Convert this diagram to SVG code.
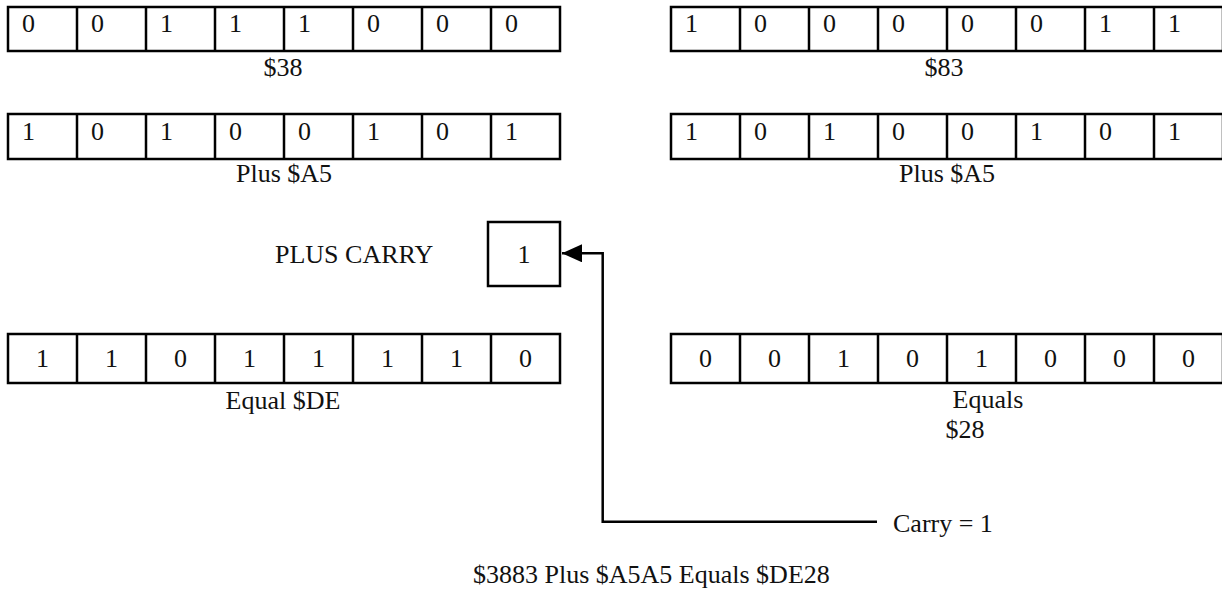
<svg xmlns="http://www.w3.org/2000/svg" width="1222" height="593" viewBox="0 0 1222 593">
<style>
text{font-family:"Liberation Serif","Times New Roman",serif;font-size:26px;fill:#111}
.c{text-anchor:middle}
.cell{fill:#fff;stroke:#000;stroke-width:2.5}
.ln{fill:none;stroke:#000;stroke-width:2.5}
</style>
<defs>
<marker id="ah" markerWidth="20" markerHeight="20" refX="20" refY="9" orient="auto" markerUnits="userSpaceOnUse">
<path d="M0,0 L20,9 L0,18 Z" fill="#000"/>
</marker>
</defs>
<g id="row-38">
<rect class="cell" x="8" y="7" width="552" height="44"/>
<path class="ln" d="M77,7V51M146,7V51M215,7V51M284,7V51M353,7V51M422,7V51M491,7V51"/>
<text x="22" y="32">0</text><text x="91" y="32">0</text><text x="160" y="32">1</text><text x="229" y="32">1</text><text x="298" y="32">1</text><text x="367" y="32">0</text><text x="436" y="32">0</text><text x="505" y="32">0</text>
<text class="c" x="283" y="76">$38</text>
</g>
<g id="row-83">
<rect class="cell" x="671" y="7" width="552" height="44"/>
<path class="ln" d="M740,7V51M809,7V51M878,7V51M947,7V51M1016,7V51M1085,7V51M1154,7V51"/>
<text x="685" y="32">1</text><text x="754" y="32">0</text><text x="823" y="32">0</text><text x="892" y="32">0</text><text x="961" y="32">0</text><text x="1030" y="32">0</text><text x="1099" y="32">1</text><text x="1168" y="32">1</text>
<text class="c" x="944" y="76">$83</text>
</g>
<g id="row-a5-left">
<rect class="cell" x="8" y="114" width="552" height="45"/>
<path class="ln" d="M77,114V159M146,114V159M215,114V159M284,114V159M353,114V159M422,114V159M491,114V159"/>
<text x="22" y="140">1</text><text x="91" y="140">0</text><text x="160" y="140">1</text><text x="229" y="140">0</text><text x="298" y="140">0</text><text x="367" y="140">1</text><text x="436" y="140">0</text><text x="505" y="140">1</text>
<text class="c" x="284" y="182">Plus $A5</text>
</g>
<g id="row-a5-right">
<rect class="cell" x="671" y="114" width="552" height="45"/>
<path class="ln" d="M740,114V159M809,114V159M878,114V159M947,114V159M1016,114V159M1085,114V159M1154,114V159"/>
<text x="685" y="140">1</text><text x="754" y="140">0</text><text x="823" y="140">1</text><text x="892" y="140">0</text><text x="961" y="140">0</text><text x="1030" y="140">1</text><text x="1099" y="140">0</text><text x="1168" y="140">1</text>
<text class="c" x="947" y="182">Plus $A5</text>
</g>
<g id="carry-in">
<text x="275" y="263">PLUS CARRY</text>
<rect class="cell" x="488" y="222" width="72" height="64"/>
<text class="c" x="524" y="263">1</text>
</g>
<g id="row-de">
<rect class="cell" x="8" y="334" width="552" height="49"/>
<path class="ln" d="M77,334V383M146,334V383M215,334V383M284,334V383M353,334V383M422,334V383M491,334V383"/>
<text class="c" x="42.5" y="367">1</text><text class="c" x="111.5" y="367">1</text><text class="c" x="180.5" y="367">0</text><text class="c" x="249.5" y="367">1</text><text class="c" x="318.5" y="367">1</text><text class="c" x="387.5" y="367">1</text><text class="c" x="456.5" y="367">1</text><text class="c" x="525.5" y="367">0</text>
<text class="c" x="283" y="409">Equal $DE</text>
</g>
<g id="row-28">
<rect class="cell" x="671" y="334" width="552" height="49"/>
<path class="ln" d="M740,334V383M809,334V383M878,334V383M947,334V383M1016,334V383M1085,334V383M1154,334V383"/>
<text class="c" x="705.5" y="367">0</text><text class="c" x="774.5" y="367">0</text><text class="c" x="843.5" y="367">1</text><text class="c" x="912.5" y="367">0</text><text class="c" x="981.5" y="367">1</text><text class="c" x="1050.5" y="367">0</text><text class="c" x="1119.5" y="367">0</text><text class="c" x="1188.5" y="367">0</text>
<text class="c" x="988" y="408">Equals</text>
<text class="c" x="965" y="438">$28</text>
</g>
<g id="connectors">
<path class="ln" d="M877,521.7H602.7V253.3H562" marker-end="url(#ah)"/>
</g>
<g id="carry-out">
<text x="893" y="532">Carry = 1</text>
</g>
<g id="caption">
<text x="473" y="583">$3883 Plus $A5A5 Equals $DE28</text>
</g>
</svg>
